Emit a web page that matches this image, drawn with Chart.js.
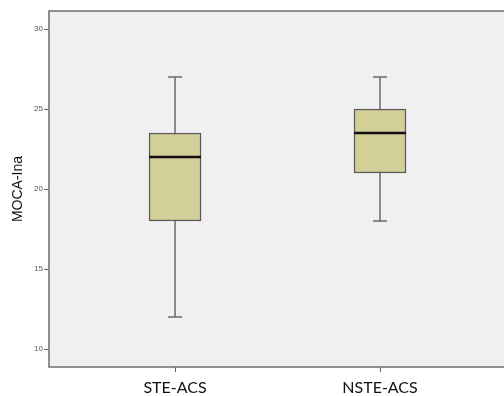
<!DOCTYPE html>
<html>
<head>
<meta charset="utf-8">
<script src="https://cdn.jsdelivr.net/npm/chart.js@4"></script>
<style>
    html, body { margin: 0; padding: 0; background: #fff; overflow: hidden; }
    #wrap { width: 540px; height: 396px; }
</style>
</head>
<body>
<div id="wrap"><canvas id="graphique-boxplot"></canvas></div>
<script>
// Données des boîtes à moustaches
const groupes = ["STE-ACS", "NSTE-ACS"];
const positions = [1, 2];
const minimum = [12, 18];
const quartile1 = [18, 21];
const mediane = [22, 23.5];
const quartile3 = [23.5, 25];
const maximum = [27, 27];
const ticksY = [10, 15, 20, 25, 30];

// fond gris et cadre de la zone de tracé
const cadre = {
    id: "cadre",
    beforeDraw(chart) {
        const { ctx, chartArea: a } = chart;
        ctx.save();
        ctx.fillStyle = "#f0f0f0";
        ctx.fillRect(a.left, a.top, a.right - a.left, a.bottom - a.top);
        ctx.restore();
    },
    afterDraw(chart) {
        const { ctx, chartArea: a } = chart;
        ctx.save();
        ctx.strokeStyle = "#6e6e6e";
        ctx.lineWidth = 1.5;
        ctx.strokeRect(a.left, a.top, a.right - a.left, a.bottom - a.top);
        ctx.restore();
    },
};

// moustaches (derrière les boîtes) et médianes (devant)
const moustaches = {
    id: "moustaches",
    beforeDatasetsDraw(chart) {
        const { ctx, scales } = chart;
        ctx.save();
        ctx.strokeStyle = "#6b6b6b";
        ctx.lineWidth = 1.5;
        for (let i = 0; i < groupes.length; i++) {
            const x = scales.x.getPixelForValue(positions[i]);
            const yMin = scales.y.getPixelForValue(minimum[i]);
            const yMax = scales.y.getPixelForValue(maximum[i]);
            ctx.beginPath();
            ctx.moveTo(x, yMin);
            ctx.lineTo(x, yMax);
            ctx.moveTo(x - 7, yMin);
            ctx.lineTo(x + 7, yMin);
            ctx.moveTo(x - 7, yMax);
            ctx.lineTo(x + 7, yMax);
            ctx.stroke();
        }
        ctx.restore();
    },
    afterDatasetsDraw(chart) {
        const { ctx, scales } = chart;
        const barres = chart.getDatasetMeta(0).data;
        ctx.save();
        ctx.strokeStyle = "#111";
        ctx.lineWidth = 2.5;
        for (let i = 0; i < groupes.length; i++) {
            const y = scales.y.getPixelForValue(mediane[i]);
            const demi = barres[i].width / 2;
            const x = barres[i].x;
            ctx.beginPath();
            ctx.moveTo(x - demi, y);
            ctx.lineTo(x + demi, y);
            ctx.stroke();
        }
        ctx.restore();
    },
};

const data = {
    datasets: [
        {
            label: "MOCA-Ina",
            data: positions.map((p, i) => ({ x: p, y: [quartile1[i], quartile3[i]] })),
            backgroundColor: "#d3cf98",
            borderColor: "#5a5a5a",
            borderWidth: 1.5,
            borderSkipped: false,
            barThickness: 52,
        },
    ],
};

const config = {
    type: "bar",
    data: data,
    plugins: [cadre, moustaches],
    options: {
        responsive: true,
        maintainAspectRatio: false,
        animation: false,
        layout: { padding: { top: 11, right: 20, left: 0, bottom: 0 } },
        plugins: { legend: { display: false }, tooltip: { enabled: false } },
        scales: {
            x: {
                type: "linear",
                offset: false,
                min: 0.385,
                max: 2.683,
                afterBuildTicks(scale) {
                    scale.ticks = positions.map(v => ({ value: v }));
                },
                afterFit(scale) {
                    scale.height = 29;
                },
                grid: { offset: false, drawOnChartArea: false, drawTicks: true, tickLength: 5, color: "#666" },
                border: { display: false },
                ticks: {
                    padding: 6,
                    color: "#111",
                    font: { family: "Lato", size: 16 },
                    callback: (v) => groupes[positions.indexOf(v)] || "",
                },
            },
            y: {
                min: 8.875,
                max: 31.125,
                afterBuildTicks(scale) {
                    scale.ticks = ticksY.map(v => ({ value: v }));
                },
                afterFit(scale) {
                    scale.width = 49;
                },
                grid: { drawOnChartArea: false, drawTicks: true, tickLength: 5, color: "#666" },
                border: { display: false },
                ticks: {
                    padding: 1,
                    color: "#555",
                    font: { family: "Liberation Sans", size: 8 },
                },
                title: {
                    display: true,
                    text: "MOCA-Ina",
                    color: "#111",
                    font: { family: "Liberation Sans", size: 14 },
                    padding: { top: 10, bottom: 0 },
                },
            },
        },
    },
};

new Chart(document.querySelector("#graphique-boxplot"), config);
</script>
</body>
</html>
